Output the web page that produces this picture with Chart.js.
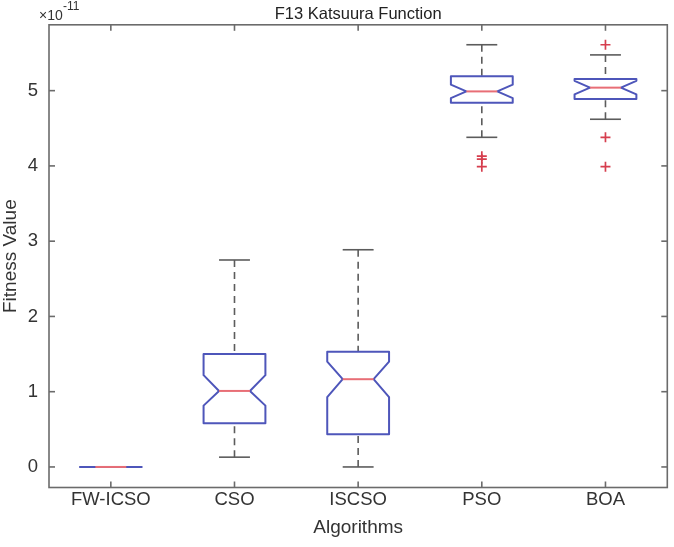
<!DOCTYPE html>
<html>
<head>
<meta charset="utf-8">
<title>F13 Katsuura Function</title>
<script src="https://cdn.jsdelivr.net/npm/chart.js@4.4.0/dist/chart.umd.min.js"></script>
<style>
  html, body { margin: 0; padding: 0; background: #fff; }
</style>
</head>
<body>
<canvas id="myChart" width="674" height="547"></canvas>
<script>
'use strict';

// values are in units of 1e-11 (the x10^-11 label above the y axis)
let algorithms = ['FW-ICSO', 'CSO', 'ISCSO', 'PSO', 'BOA'];
let lowerWhisker = [0, 0.13, 0.0, 4.38, 4.62];
let quartile1 = [0, 0.58, 0.435, 4.84, 4.89];
let medians = [0, 1.01, 1.166, 4.99, 5.04];
let quartile3 = [0, 1.50, 1.53, 5.19, 5.156];
let upperWhisker = [0, 2.75, 2.886, 5.61, 5.475];
let notchLow = [0, 0.815, 0.927, 4.90, 4.95];
let notchHigh = [0, 1.22, 1.40, 5.08, 5.13];
let psoOutliers = [4.13, 4.09, 3.99];
let boaOutliers = [5.61, 4.38, 3.99];
let yTicks = [0, 1, 2, 3, 4, 5];

let fontFamily = '"Liberation Sans", Arial, Helvetica, sans-serif';
let frameColor = '#6b6b6b';
let boxColor = 'rgb(78, 86, 186)';
let medianColor = 'rgb(232, 110, 118)';
let whiskerColor = '#5c5c5c';
let outlierColor = 'rgb(214, 62, 78)';

// outlier points as a normal dataset
let outlierPoints = [];
for (let i = 0; i < psoOutliers.length; i++) {
  outlierPoints.push({ x: 'PSO', y: psoOutliers[i] });
}
for (let i = 0; i < boaOutliers.length; i++) {
  outlierPoints.push({ x: 'BOA', y: boaOutliers[i] });
}

function strokeLine(ctx, x1, y1, x2, y2) {
  ctx.beginPath();
  ctx.moveTo(x1, y1);
  ctx.lineTo(x2, y2);
  ctx.stroke();
}

// draws matlab style notched boxes using the chart scales
let notchedBoxes = {
  id: 'notchedBoxes',
  beforeDatasetsDraw(chart) {
    let ctx = chart.ctx;
    let xs = chart.scales.x;
    let ys = chart.scales.y;
    let slot = xs.getPixelForValue(1) - xs.getPixelForValue(0);
    let half = slot * 0.25;
    let quarter = half / 2;
    ctx.save();
    ctx.lineCap = 'butt';
    for (let i = 0; i < algorithms.length; i++) {
      let cx = xs.getPixelForValue(i);
      let yLow = ys.getPixelForValue(lowerWhisker[i]);
      let yQ1 = ys.getPixelForValue(quartile1[i]);
      let yMed = ys.getPixelForValue(medians[i]);
      let yQ3 = ys.getPixelForValue(quartile3[i]);
      let yHigh = ys.getPixelForValue(upperWhisker[i]);
      let yNLo = ys.getPixelForValue(notchLow[i]);
      let yNHi = ys.getPixelForValue(notchHigh[i]);

      // dashed whiskers
      ctx.strokeStyle = whiskerColor;
      ctx.lineWidth = 1.6;
      ctx.setLineDash([7, 5]);
      strokeLine(ctx, cx, yHigh, cx, yQ3);
      strokeLine(ctx, cx, yLow, cx, yQ1);
      ctx.setLineDash([]);
      strokeLine(ctx, cx - quarter, yHigh, cx + quarter, yHigh);
      strokeLine(ctx, cx - quarter, yLow, cx + quarter, yLow);

      // box with notch
      ctx.strokeStyle = boxColor;
      ctx.lineWidth = 2;
      ctx.lineJoin = 'round';
      ctx.beginPath();
      ctx.moveTo(cx - half, yQ3);
      ctx.lineTo(cx + half, yQ3);
      ctx.lineTo(cx + half, yNHi);
      ctx.lineTo(cx + quarter, yMed);
      ctx.lineTo(cx + half, yNLo);
      ctx.lineTo(cx + half, yQ1);
      ctx.lineTo(cx - half, yQ1);
      ctx.lineTo(cx - half, yNLo);
      ctx.lineTo(cx - quarter, yMed);
      ctx.lineTo(cx - half, yNHi);
      ctx.closePath();
      ctx.stroke();

      // median
      ctx.strokeStyle = medianColor;
      strokeLine(ctx, cx - quarter, yMed, cx + quarter, yMed);
    }
    ctx.restore();
  },
  afterDraw(chart) {
    let ctx = chart.ctx;
    let area = chart.chartArea;
    let xs = chart.scales.x;
    let ys = chart.scales.y;
    let tick = 6;
    ctx.save();
    ctx.strokeStyle = frameColor;
    ctx.lineWidth = 1.6;
    ctx.strokeRect(area.left, area.top, area.right - area.left, area.bottom - area.top);
    // inward ticks on all four sides
    for (let i = 0; i < algorithms.length; i++) {
      let px = xs.getPixelForValue(i);
      strokeLine(ctx, px, area.bottom, px, area.bottom - tick);
      strokeLine(ctx, px, area.top, px, area.top + tick);
    }
    for (let i = 0; i < yTicks.length; i++) {
      let py = ys.getPixelForValue(yTicks[i]);
      strokeLine(ctx, area.left, py, area.left + tick, py);
      strokeLine(ctx, area.right, py, area.right - tick, py);
    }
    // exponent label
    ctx.fillStyle = '#333';
    ctx.textBaseline = 'alphabetic';
    ctx.textAlign = 'left';
    ctx.font = '14px ' + fontFamily;
    ctx.fillText('\u00d710', 39, 20);
    ctx.font = '12px ' + fontFamily;
    ctx.fillText('-11', 63, 10);
    ctx.restore();
  }
};

let ctx = document.getElementById('myChart').getContext('2d');

let chartObject = {
  type: 'line',
  data: {
    labels: algorithms,
    datasets: [{
      label: 'Outliers',
      data: outlierPoints,
      showLine: false,
      pointStyle: 'cross',
      pointRadius: 5,
      pointBorderWidth: 1.7,
      borderColor: outlierColor,
      backgroundColor: outlierColor
    }]
  },
  options: {
    responsive: false,
    animation: false,
    layout: {
      padding: { left: 0, right: 3, top: 0, bottom: 0 }
    },
    plugins: {
      legend: { display: false },
      tooltip: { enabled: false },
      title: {
        display: true,
        fullSize: false,
        text: 'F13 Katsuura Function',
        color: '#222',
        font: { family: fontFamily, size: 16.5, weight: 'normal' },
        padding: { top: 5, bottom: 0 }
      }
    },
    scales: {
      x: {
        type: 'category',
        offset: true,
        grid: { display: false, drawTicks: false },
        border: { display: false },
        ticks: {
          color: '#333',
          font: { family: fontFamily, size: 18.5 },
          padding: 1,
          maxRotation: 0,
          autoSkip: false
        },
        title: {
          display: true,
          text: 'Algorithms',
          color: '#333',
          font: { family: fontFamily, size: 19, lineHeight: 1.2 },
          padding: { top: 0, bottom: 8 }
        },
        afterFit: function (scale) {
          scale.height = 59.5;
        }
      },
      y: {
        min: -0.273,
        max: 5.875,
        grid: { display: false, drawTicks: false },
        border: { display: false },
        ticks: {
          color: '#333',
          font: { family: fontFamily, size: 18.5 },
          padding: 11,
          includeBounds: false,
          stepSize: 1
        },
        afterBuildTicks: function (scale) {
          scale.ticks = yTicks.map(function (v) { return { value: v }; });
        },
        title: {
          display: true,
          text: 'Fitness Value',
          color: '#333',
          font: { family: fontFamily, size: 19, lineHeight: 1 },
          padding: { top: 1, bottom: 0 }
        },
        afterFit: function (scale) {
          scale.width = 49;
        }
      }
    }
  },
  plugins: [notchedBoxes]
};

new Chart(ctx, chartObject);
</script>
</body>
</html>
